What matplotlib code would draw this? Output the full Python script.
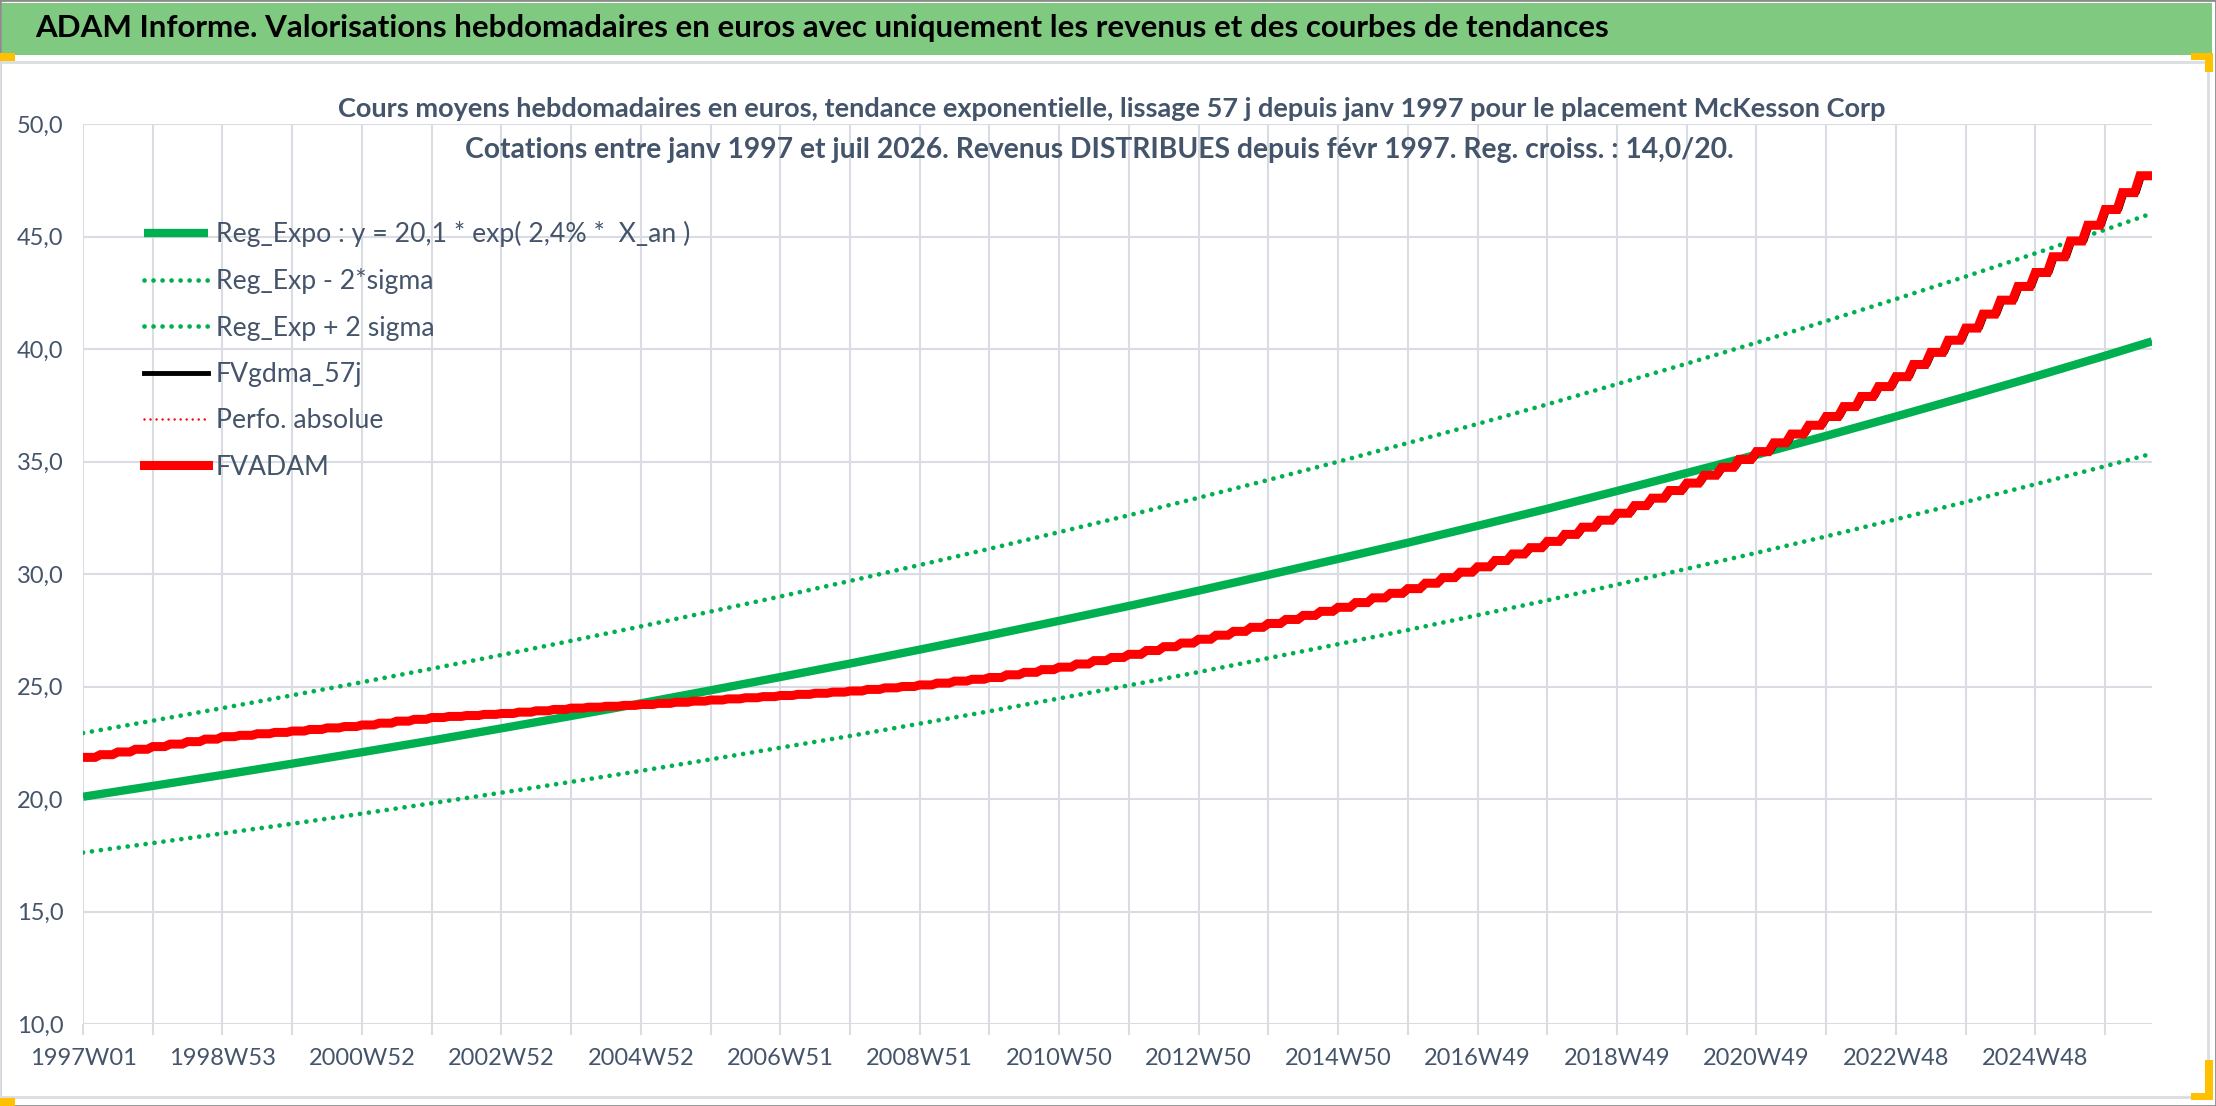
import matplotlib.pyplot as plt
from matplotlib.patches import Rectangle

W, H, DPI = 2216, 1106, 100

title = "ADAM Informe. Valorisations hebdomadaires en euros avec uniquement les revenus et des courbes de tendances"
subtitle1 = ("Cours moyens hebdomadaires en euros, tendance exponentielle, lissage 57 j "
             "depuis janv 1997 pour le placement McKesson Corp")
subtitle2 = ("Cotations entre janv 1997 et juil 2026. Revenus DISTRIBUES depuis févr 1997. "
             "Reg. croiss. : 14,0/20.")

# x axis = week number since 1997W01, gridline every 52 weeks, label every 104
week_labels = ["1997W01", "1998W53", "2000W52", "2002W52", "2004W52", "2006W51",
               "2008W51", "2010W50", "2012W50", "2014W50", "2016W49", "2018W49",
               "2020W49", "2022W48", "2024W48"]
last_week = 1543

# trend curves read once a year (every 52 weeks) + last week
year_weeks = list(range(0, 1509, 52)) + [last_week]
reg_expo = [20.10, 20.58, 21.07, 21.57, 22.08, 22.60, 23.14, 23.69, 24.25, 24.83,
            25.42, 26.02, 26.64, 27.27, 27.92, 28.58, 29.26, 29.96, 30.67, 31.39,
            32.14, 32.90, 33.69, 34.49, 35.30, 36.14, 37.00, 37.88, 38.78, 39.70, 40.34]
reg_low = [17.62, 18.04, 18.47, 18.90, 19.35, 19.81, 20.28, 20.76, 21.25, 21.76,
           22.28, 22.80, 23.35, 23.90, 24.47, 25.05, 25.64, 26.26, 26.88, 27.51,
           28.17, 28.83, 29.53, 30.23, 30.94, 31.67, 32.43, 33.20, 33.99, 34.79, 35.35]
reg_high = [22.93, 23.48, 24.04, 24.61, 25.19, 25.79, 26.40, 27.03, 27.67, 28.33,
            29.00, 29.69, 30.40, 31.12, 31.86, 32.61, 33.39, 34.18, 34.99, 35.82,
            36.67, 37.54, 38.44, 39.35, 40.28, 41.24, 42.22, 43.22, 44.25, 45.30, 46.03]

# FVADAM steps, one level per quarter (13 weeks)
quarter_weeks = list(range(0, 1535, 13))
fvadam = [21.85, 21.97, 22.09, 22.21, 22.33, 22.44, 22.55, 22.66, 22.77, 22.83,
          22.90, 22.96, 23.02, 23.09, 23.16, 23.22, 23.29, 23.37, 23.46, 23.54,
          23.62, 23.67, 23.71, 23.76, 23.80, 23.86, 23.92, 23.98, 24.04, 24.08,
          24.12, 24.16, 24.20, 24.25, 24.30, 24.35, 24.40, 24.45, 24.50, 24.55,
          24.60, 24.65, 24.70, 24.75, 24.80, 24.87, 24.94, 25.00, 25.07, 25.15,
          25.24, 25.32, 25.40, 25.52, 25.63, 25.75, 25.86, 26.00, 26.15, 26.29,
          26.43, 26.60, 26.77, 26.93, 27.10, 27.28, 27.45, 27.63, 27.80, 27.98,
          28.16, 28.34, 28.52, 28.73, 28.94, 29.14, 29.35, 29.59, 29.84, 30.08,
          30.32, 30.60, 30.89, 31.17, 31.45, 31.76, 32.08, 32.39, 32.70, 33.04,
          33.37, 33.71, 34.04, 34.39, 34.74, 35.09, 35.44, 35.83, 36.22, 36.61,
          37.00, 37.44, 37.89, 38.33, 38.77, 39.31, 39.85, 40.39, 40.93, 41.55,
          42.17, 42.78, 43.40, 44.10, 44.80, 45.50, 46.20, 46.95, 47.70]

plt.rcParams["font.family"] = ["Lato", "DejaVu Sans"]
TXT = "#44546A"
GRID = "#D9DCE2"
GREEN = "#00B050"
RED = "#FF0000"

fig = plt.figure(figsize=(W / DPI, H / DPI), dpi=DPI)

def fx(px):
    return px / W

def fy(py):
    return 1 - py / H

# frame, title bar, excel handles
fig.patches.append(Rectangle((0, 0), 1, 1, transform=fig.transFigure, fill=False,
                             ec="#8C8C8C", lw=2))
fig.patches.append(Rectangle((fx(2), fy(55)), fx(2210), 52 / H, transform=fig.transFigure,
                             fc="#80C980", ec="none"))
fig.patches.append(Rectangle((fx(0), fy(1097)), fx(2208), (1097 - 62) / H,
                             transform=fig.transFigure, fill=False, ec="#DADDE3", lw=2))
for x0, y0, w, h in [(0, 53, 15, 8), (2191, 53, 22, 7), (2205, 53, 8, 19),
                     (0, 1098, 15, 8), (2205, 1060, 8, 40), (2191, 1093, 22, 7)]:
    fig.patches.append(Rectangle((fx(x0), fy(y0 + h)), w / W, h / H,
                                 transform=fig.transFigure, fc="#FFC000", ec="none"))

fig.text(fx(35), fy(28), title, fontsize=22.5, fontweight="bold", color="black",
         va="center", ha="left")
fig.text(fx(1112), fy(109), subtitle1, fontsize=19.5, fontweight="bold", color=TXT,
         va="center", ha="center")
fig.text(fx(1099), fy(150), subtitle2, fontsize=20.3, fontweight="bold", color=TXT,
         va="center", ha="center")

ax = fig.add_axes([fx(83), fy(1024), (2152 - 83) / W, 900 / H])
ax.set_xlim(0, last_week)
ax.set_ylim(10, 50)

ax.plot(year_weeks, reg_expo, color=GREEN, lw=6, solid_capstyle="butt",
        label="Reg_Expo : y = 20,1 * exp( 2,4% *  X_an )")
ax.plot(year_weeks, reg_low, color=GREEN, lw=3.4, linestyle=(0, (0.01, 1.9)),
        dash_capstyle="round", label="Reg_Exp - 2*sigma")
ax.plot(year_weeks, reg_high, color=GREEN, lw=3.4, linestyle=(0, (0.01, 1.9)),
        dash_capstyle="round", label="Reg_Exp + 2 sigma")

# each quarterly level is held ~9 weeks, then climbs to the next one
step_x, step_y = [], []
for q, v in zip(quarter_weeks, fvadam):
    step_x += [q, min(q + 9, last_week)]
    step_y += [v, v]

ax.plot([x + 2 for x in step_x], step_y, color="black", lw=3.5, label="FVgdma_57j")
ax.plot(step_x, step_y, color=RED, lw=1.8, linestyle=(0, (0.01, 2.4)),
        dash_capstyle="round", label="Perfo. absolue")
ax.plot(step_x, step_y, color=RED, lw=6.5, solid_joinstyle="miter", label="FVADAM")

ax.set_yticks(range(10, 51, 5))
ax.set_yticklabels([f"{v},0" for v in range(10, 51, 5)])
ticks = list(range(0, 1509, 52))
ax.set_xticks(ticks)
ax.set_xticklabels([week_labels[i // 2] if i % 2 == 0 else "" for i in range(len(ticks))])
ax.grid(True, color=GRID, lw=1.5)
ax.set_axisbelow(True)
for s in ax.spines.values():
    s.set_visible(False)
ax.tick_params(axis="x", length=8, width=1.5, color=GRID, pad=9, labelsize=17,
               labelcolor=TXT)
ax.tick_params(axis="y", length=0, pad=14, labelsize=17, labelcolor=TXT)

ax.legend(loc="upper left", bbox_to_anchor=(fx(144), fy(221)),
          bbox_transform=fig.transFigure, frameon=False, fontsize=19.2,
          labelcolor=TXT, handlelength=2.4, handletextpad=0.3, labelspacing=0.8,
          borderpad=0, borderaxespad=0)

fig.savefig("out.png", dpi=DPI)
